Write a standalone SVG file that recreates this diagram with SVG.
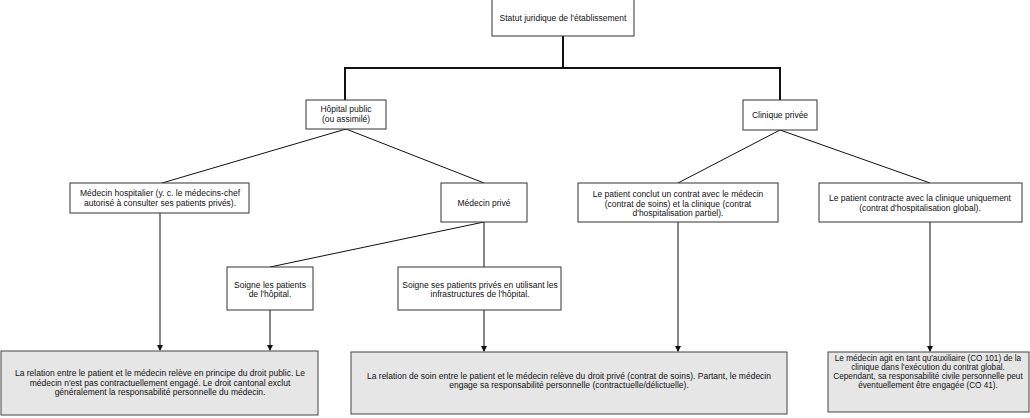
<svg xmlns="http://www.w3.org/2000/svg" width="1030" height="418" viewBox="0 0 1030 418">
<style>
text{font-family:"Liberation Sans",Arial,sans-serif;font-size:8.5px;fill:#111;text-anchor:middle}
.box{fill:#fff;stroke:#333;stroke-width:1}
.res{fill:#e6e6e6;stroke:#444;stroke-width:1}
.c{fill:none;stroke:#111;stroke-width:1}
.t{fill:none;stroke:#111;stroke-width:2}
.s{font-size:8.2px}
</style>
<defs>
<marker id="a" markerWidth="6" markerHeight="6" refX="5" refY="3" orient="auto" markerUnits="userSpaceOnUse">
<path d="M0,0 L6,3 L0,6 Z" fill="#111"/>
</marker>
</defs>
<rect width="1030" height="418" fill="#fff"/>
<g id="connectors">
<path class="t" d="M563,36 V68 M345,68 H780 M345,67 V100 M780,67 V100"/>
<path class="c" d="M346,129 L162,183 M346,129 L484,183"/>
<path class="c" d="M780,130 L678,183 M780,130 L930,183"/>
<path class="c" d="M484,222 L270,267 M484,222 L484,267"/>
<path class="c" d="M160,213 V350" marker-end="url(#a)"/>
<path class="c" d="M270,310 V350" marker-end="url(#a)"/>
<path class="c" d="M484,310 V351" marker-end="url(#a)"/>
<path class="c" d="M678,222 V351" marker-end="url(#a)"/>
<path class="c" d="M930,222 V351" marker-end="url(#a)"/>
</g>
<g id="statut"><rect class="box" x="492" y="-1" width="142" height="37"/><text x="563" y="21">Statut juridique de l'établissement</text></g>
<g id="hopital"><rect class="box" x="306" y="100" width="80" height="29"/><text x="346" y="112">Hôpital public</text><text x="346" y="122">(ou assimilé)</text></g>
<g id="clinique"><rect class="box" x="743" y="100" width="74" height="30"/><text x="780" y="118">Clinique privée</text></g>
<g id="medhosp"><rect class="box" x="70" y="183" width="179" height="30"/><text x="160" y="196">Médecin hospitalier (y. c. le médecins-chef</text><text x="160" y="206">autorisé à consulter ses patients privés).</text></g>
<g id="medprive"><rect class="box" x="441" y="183" width="86" height="39"/><text x="484" y="206">Médecin privé</text></g>
<g id="contratsoins"><rect class="box" x="578" y="183" width="200" height="39"/><text x="678" y="197">Le patient conclut un contrat avec le médecin</text><text x="678" y="207">(contrat de soins) et la clinique (contrat</text><text x="678" y="216">d'hospitalisation partiel).</text></g>
<g id="contratglobal"><rect class="box" x="819" y="183" width="203" height="39"/><text x="920" y="201">Le patient contracte avec la clinique uniquement</text><text x="920" y="211">(contrat d'hospitalisation global).</text></g>
<g id="soignehop"><rect class="box" x="227" y="267" width="86" height="43"/><text x="270" y="288">Soigne les patients</text><text x="270" y="297">de l'hôpital.</text></g>
<g id="soigneprive"><rect class="box" x="398" y="267" width="163" height="43"/><text x="480" y="288">Soigne ses patients privés en utilisant les</text><text x="480" y="297">infrastructures de l'hôpital.</text></g>
<g id="res1"><rect class="res" x="1" y="351" width="317" height="64"/><text x="160" y="376">La relation entre le patient et le médecin relève en principe du droit public. Le</text><text x="160" y="386">médecin n'est pas contractuellement engagé. Le droit cantonal exclut</text><text x="160" y="395">généralement la responsabilité personnelle du médecin.</text></g>
<g id="res2"><rect class="res" x="351" y="352" width="436" height="62"/><text x="569" y="379">La relation de soin entre le patient et le médecin relève du droit privé (contrat de soins). Partant, le médecin</text><text x="569" y="388">engage sa responsabilité personnelle (contractuelle/délictuelle).</text></g>
<g id="res3"><rect class="res" x="828" y="352" width="201" height="60"/><text class="s" x="928" y="361">Le médecin agit en tant qu'auxiliaire (CO 101) de la</text><text class="s" x="928" y="370">clinique dans l'exécution du contrat global.</text><text class="s" x="928" y="379">Cependant, sa responsabilité civile personnelle peut</text><text class="s" x="928" y="388">éventuellement être engagée (CO 41).</text></g>
</svg>
